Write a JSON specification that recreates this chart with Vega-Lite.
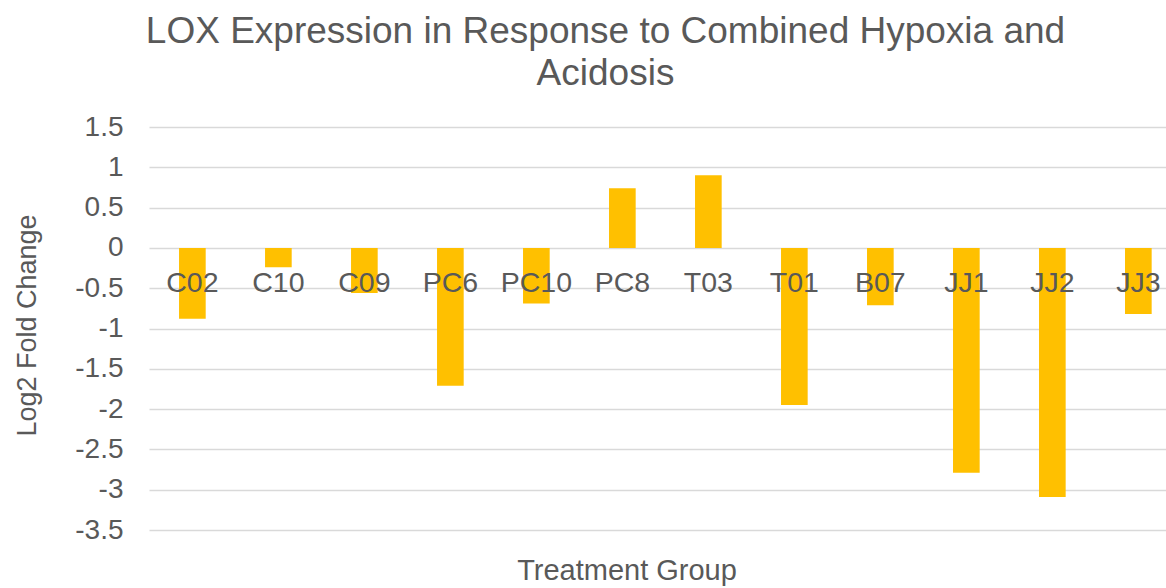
{
  "$schema": "https://vega.github.io/schema/vega-lite/v6.json",
  "width": 1017,
  "height": 403,
  "autosize": "none",
  "padding": {"left": 149, "top": 127, "right": 0, "bottom": 58},
  "background": "white",
  "title": {
    "text": ["LOX Expression in Response to Combined Hypoxia and", "Acidosis"],
    "font": "Liberation Sans",
    "fontSize": 37,
    "fontWeight": "normal",
    "color": "#595959",
    "lineHeight": 42,
    "anchor": "middle",
    "frame": "group",
    "dx": -52,
    "offset": 20
  },
  "data": {
    "values": [
      {"group": "C02", "value": -0.88},
      {"group": "C10", "value": -0.24},
      {"group": "C09", "value": -0.56},
      {"group": "PC6", "value": -1.71},
      {"group": "PC10", "value": -0.69},
      {"group": "PC8", "value": 0.74},
      {"group": "T03", "value": 0.9},
      {"group": "T01", "value": -1.95},
      {"group": "B07", "value": -0.71},
      {"group": "JJ1", "value": -2.79},
      {"group": "JJ2", "value": -3.09},
      {"group": "JJ3", "value": -0.82}
    ]
  },
  "mark": {"type": "bar", "color": "#FFC000"},
  "encoding": {
    "x": {
      "field": "group",
      "type": "nominal",
      "sort": null,
      "scale": {"paddingInner": 0.69, "paddingOuter": 0.258, "align": 0.677},
      "axis": {
        "title": "Treatment Group",
        "titleFont": "Liberation Sans",
        "titleFontSize": 29,
        "titleFontWeight": "normal",
        "titleColor": "#595959",
        "titleX": 477.5,
        "titleY": 332,
        "titleBaseline": "alphabetic",
        "titleAnchor": null,
        "labelAngle": 0,
        "labelFont": "Liberation Sans",
        "labelFontSize": 28.5,
        "labelColor": "#595959",
        "labelPadding": 21,
        "labelOverlap": false,
        "domain": false,
        "ticks": false,
        "grid": false,
        "offset": -282.1,
        "zindex": 1
      }
    },
    "y": {
      "field": "value",
      "type": "quantitative",
      "scale": {"domain": [-3.5, 1.5], "nice": false, "zero": false},
      "axis": {
        "title": "Log2 Fold Change",
        "titleFont": "Liberation Sans",
        "titleFontSize": 27,
        "titleFontWeight": "normal",
        "titleColor": "#595959",
        "titleX": -114,
        "titleY": 198,
        "titleBaseline": "alphabetic",
        "titleAnchor": null,
        "values": [-3.5, -3, -2.5, -2, -1.5, -1, -0.5, 0, 0.5, 1, 1.5],
        "labelExpr": "datum.value + ''",
        "labelFont": "Liberation Sans",
        "labelFontSize": 28,
        "labelColor": "#595959",
        "labelPadding": 26,
        "domain": false,
        "ticks": false,
        "grid": true,
        "gridColor": "#D9D9D9",
        "gridWidth": 1.5,
        "zindex": 0
      }
    }
  },
  "config": {"view": {"stroke": null}}
}
